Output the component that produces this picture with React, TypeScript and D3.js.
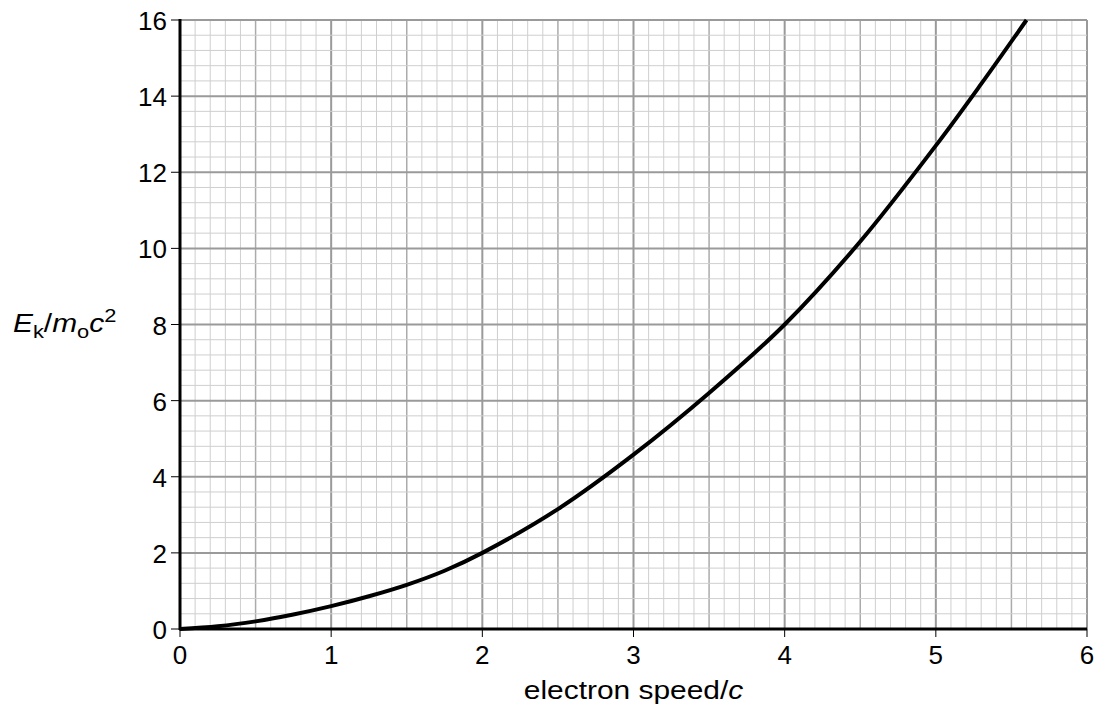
import * as React from "react";
import * as d3 from "d3";

// values
const speed = [0, 0.25, 0.5, 0.75, 1, 1.25, 1.5, 1.75, 2, 2.5, 3, 3.5, 4, 4.5, 5, 5.3, 5.6];
const energy = [0, 0.07, 0.2, 0.38, 0.6, 0.86, 1.16, 1.53, 2.0, 3.15, 4.58, 6.2, 8.0, 10.18, 12.7, 14.32, 16];

const xTicks = [0, 1, 2, 3, 4, 5, 6];
const yTicks = [0, 2, 4, 6, 8, 10, 12, 14, 16];

const font = "'Liberation Sans', Arial, sans-serif";

function App() {
  const width = 1101;
  const height = 706;

  const x = d3.scaleLinear().domain([0, 6]).range([180, 1087]);
  const y = d3.scaleLinear().domain([0, 16]).range([629, 20]);

  const points: [number, number][] = speed.map((s, i) => [s, energy[i]]);
  const line = d3
    .line<[number, number]>()
    .x((d) => x(d[0]))
    .y((d) => y(d[1]))
    .curve(d3.curveCatmullRom.alpha(0.5));

  const vLines = d3.range(0, 61).map((i) => i / 10);
  const hLines = d3.range(0, 41).map((i) => i * 0.4);

  return (
    <svg
      width={width}
      height={height}
      style={{ position: "absolute", left: 0, top: 0, background: "#fff" }}
    >
      {/* grid */}
      <g>
        {vLines.map((v, i) => {
          const major = i % 10 === 0;
          const mid = i % 5 === 0;
          return (
            <line
              key={"v" + i}
              x1={x(v)}
              x2={x(v)}
              y1={y(0)}
              y2={y(16)}
              stroke={major ? "#9a9a9a" : mid ? "#ababab" : "#cfcfcf"}
              strokeWidth={major ? 2 : mid ? 1.5 : 1}
            />
          );
        })}
        {hLines.map((v, i) => {
          const major = i % 5 === 0;
          return (
            <line
              key={"h" + i}
              x1={x(0)}
              x2={x(6)}
              y1={y(v)}
              y2={y(v)}
              stroke={major ? "#9a9a9a" : "#cfcfcf"}
              strokeWidth={major ? 2 : 1}
            />
          );
        })}
      </g>

      {/* curve */}
      <path d={line(points) || ""} fill="none" stroke="#000" strokeWidth={4} />

      {/* axes */}
      <line x1={x(0)} x2={x(0)} y1={y(0) + 1} y2={y(16) - 1} stroke="#000" strokeWidth={3} />
      <line x1={x(0) - 1} x2={x(6)} y1={y(0)} y2={y(0)} stroke="#000" strokeWidth={3} />

      {yTicks.map((d) => (
        <g key={"yt" + d} transform={`translate(${x(0)}, ${y(d)})`}>
          <line x1={-9} x2={0} stroke="#000" strokeWidth={1} />
          <text
            x={-13}
            y={1}
            textAnchor="end"
            dominantBaseline="central"
            fontFamily={font}
            fontSize={26}
            fill="#000"
          >
            {d}
          </text>
        </g>
      ))}

      {xTicks.map((d) => (
        <g key={"xt" + d} transform={`translate(${x(d)}, ${y(0)})`}>
          <line y1={0} y2={8} stroke="#000" strokeWidth={1} />
          <text
            y={35}
            textAnchor="middle"
            fontFamily={font}
            fontSize={26}
            fill="#000"
          >
            {d}
          </text>
        </g>
      ))}

      <text
        transform={`translate(${(x(0) + x(6)) / 2}, 699) scale(1.15, 1)`}
        textAnchor="middle"
        fontFamily={font}
        fontSize={26}
        fill="#000"
      >
        electron speed/<tspan fontStyle="italic">c</tspan>
      </text>

      <text
        transform={`translate(13, 332) scale(1.15, 1)`}
        fontFamily={font}
        fontSize={26}
        fill="#000"
      >
        <tspan fontStyle="italic">E</tspan>
        <tspan dy={6} fontSize={19}>k</tspan>
        <tspan dy={-6}>/</tspan>
        <tspan fontStyle="italic">m</tspan>
        <tspan dy={6} fontSize={19}>o</tspan>
        <tspan dy={-6} fontStyle="italic">c</tspan>
        <tspan dy={-10} fontSize={19}>2</tspan>
      </text>
    </svg>
  );
}

export default App;
